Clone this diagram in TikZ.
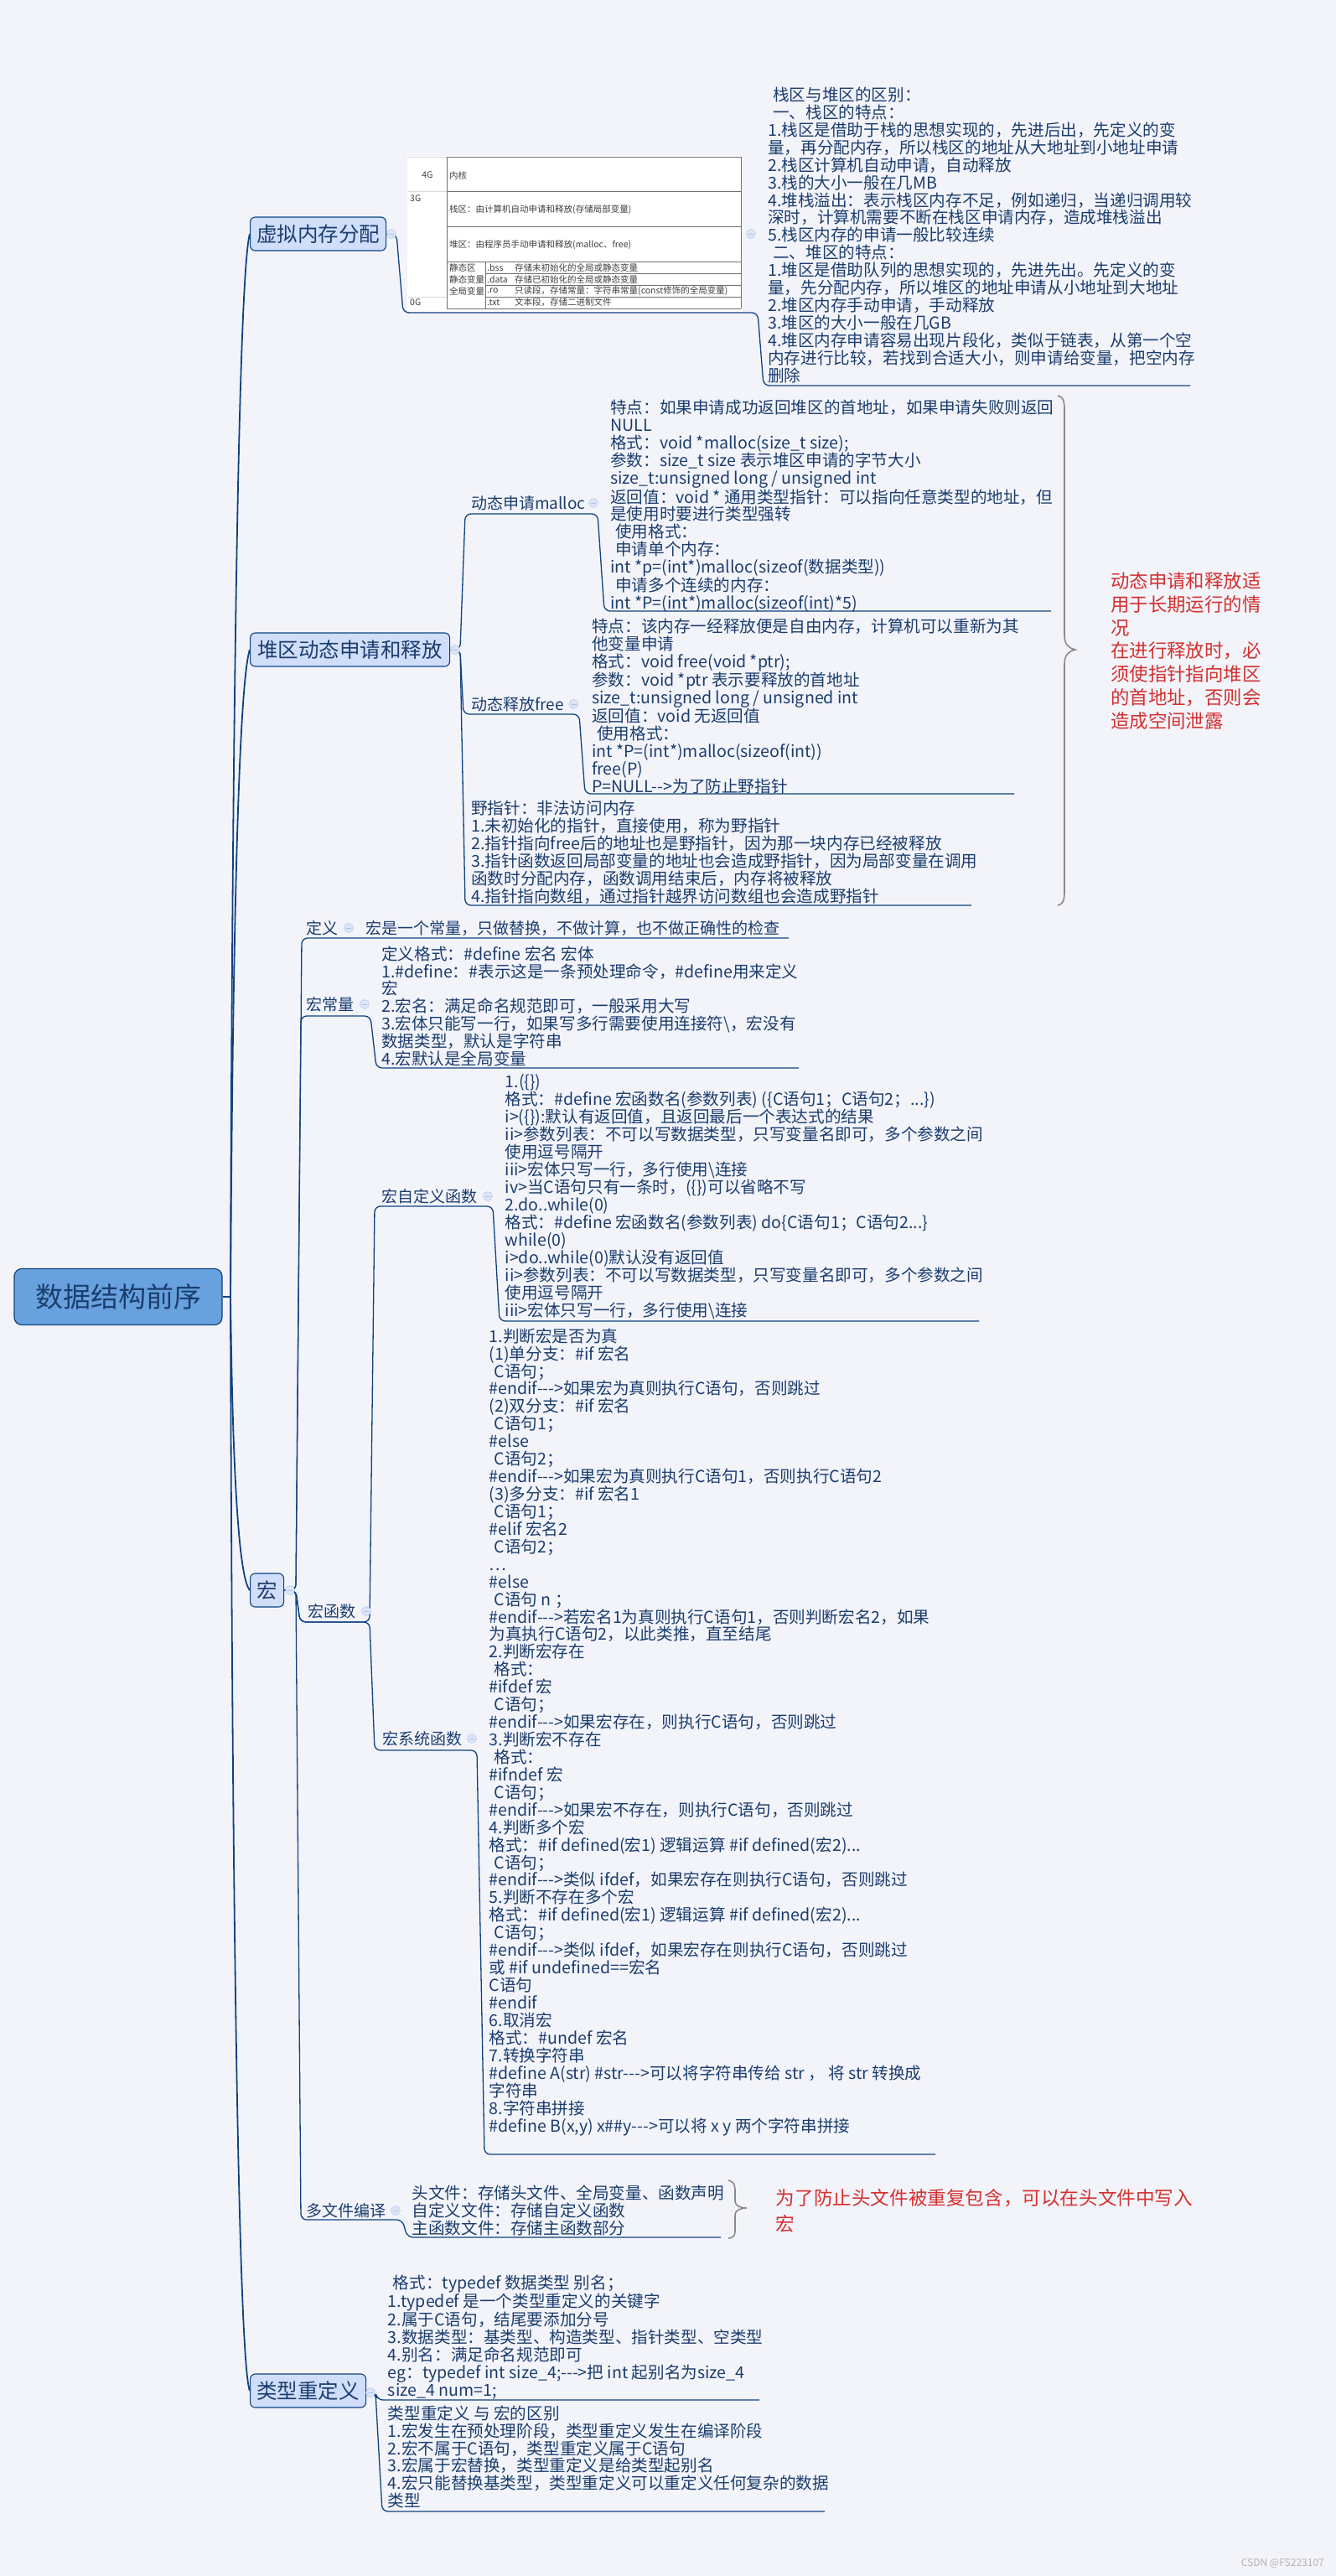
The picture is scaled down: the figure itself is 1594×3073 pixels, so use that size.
\documentclass[tikz,border=0pt]{standalone}
\usepackage{fontspec}
\newfontfamily\cjk{Noto Sans CJK SC}
\usetikzlibrary{positioning}
\definecolor{MapBg}{HTML}{F3F4FA}
\definecolor{MapInk}{HTML}{1B3D6E}
\definecolor{MapLine}{HTML}{0F4280}
\definecolor{TopicFill}{HTML}{D0DEFA}
\definecolor{RootFill}{HTML}{67A1DE}
\definecolor{NoteRed}{HTML}{D3302F}
\definecolor{FoldFill}{HTML}{DCE5F7}
\definecolor{FoldRim}{HTML}{A9BFE6}
\definecolor{BraceGrey}{HTML}{8A8A8A}
\definecolor{TableLine}{HTML}{707070}
\newcommand{\indsp}{\hspace*{6pt}}

\begin{document}
\begin{tikzpicture}[x=1pt, y=-1pt,
        root/.style={draw=MapLine, line width=1.2pt, fill=RootFill, rounded corners=9pt, minimum width=248pt, minimum height=67pt, text=MapInk, font=\cjk\fontsize{33}{36}\selectfont},
        topic/.style={draw=MapLine, line width=1.1pt, fill=TopicFill, rounded corners=6pt, minimum height=40pt, anchor=west, text=MapInk, font=\cjk\fontsize{24.5}{26}\selectfont},
        sublabel/.style={anchor=west, inner sep=0pt, text=MapInk, font=\cjk\fontsize{19}{21}\selectfont},
        notes/.style={anchor=north west, align=left, inner sep=0pt, text=MapInk, font=\cjk\fontsize{19.6}{20.93}\selectfont},
        rednote/.style={anchor=north west, align=left, inner sep=0pt, text=NoteRed, font=\cjk\fontsize{22.4}{27.7}\selectfont},
        cell/.style={anchor=west, inner sep=0pt, text=black!75, font=\cjk\fontsize{10.5}{12}\selectfont},
        fold/.style={circle, draw=FoldRim, fill=FoldFill, minimum size=11pt, inner sep=0pt,
            path picture={\draw[FoldRim, line width=0.8pt] ([xshift=-3pt]path picture bounding box.center) -- ([xshift=3pt]path picture bounding box.center);}},
        trunk/.style={draw=MapLine, line width=1.8pt},
        link/.style={draw=MapLine, line width=1.3pt, rounded corners=7pt},
        curly/.style={draw=BraceGrey, line width=1.6pt},
        tabline/.style={draw=TableLine, line width=1pt},
        tabfaint/.style={draw=black!15, line width=0.8pt}]

    \fill[MapBg] (0,0) rectangle (1594,3073);
    \useasboundingbox (0,0) rectangle (1594,3073);

    % root and main topics
    \node[root] (root) at (141,1547) {数据结构前序};
    \node[topic, minimum width=162pt] (vmem) at (298,279) {虚拟内存分配};
    \node[topic, minimum width=238pt] (heap) at (298,775) {堆区动态申请和释放};
    \node[topic, minimum width=40pt] (macro) at (298,1897) {宏};
    \node[topic, minimum width=138pt] (tdef) at (298,2852) {类型重定义};

    \draw[trunk] (root.east) -- (275,1547) coordinate (hub);
    \draw[trunk] (hub) .. controls (277,900) and (284,330) .. (vmem.west);
    \draw[trunk] (hub) .. controls (277,1200) and (283,820) .. (heap.west);
    \draw[trunk] (hub) .. controls (277,1720) and (283,1880) .. (macro.west);
    \draw[trunk] (hub) .. controls (277,2300) and (285,2820) .. (tdef.west);

    % memory table
    \fill[white] (486,186) rectangle (886,372);
    \draw[tabfaint] (487,187) -- (533,187) (487,228) -- (533,228) (487,354) -- (533,354);
    \draw[tabline] (533,187) -- (884,187) (533,187) -- (533,368) (884,187) -- (884,368);
    \draw[tabline] (533,228) -- (884,228) (533,270) -- (884,270) (533,312) -- (884,312);
    \draw[tabline] (579,326) -- (884,326) (579,340) -- (884,340) (579,354) -- (884,354);
    \draw[tabline] (579,312) -- (579,368) (533,368) -- (884,368);
    \node[cell, anchor=center] (g4) at (510,209) {4G};
    \node[cell] (kern) at (536,209) {内核};
    \node[cell] (g3) at (489,237) {3G};
    \node[cell] (stk) at (536,250) {栈区：由计算机自动申请和释放(存储局部变量)};
    \node[cell] (hp) at (536,292) {堆区：由程序员手动申请和释放(malloc、free)};
    \node[cell] (sa) at (536,319) {静态区};
    \node[cell] (sb) at (536,333) {静态变量};
    \node[cell] (sc) at (536,347) {全局变量};
    \node[cell] (bss) at (581,319) {.bss};
    \node[cell] (dat) at (581,333) {.data};
    \node[cell] (ro) at (581,347) {.ro};
    \node[cell] (txt) at (581,361) {.txt};
    \node[cell] (bssd) at (614,319) {存储未初始化的全局或静态变量};
    \node[cell] (datd) at (614,333) {存储已初始化的全局或静态变量};
    \node[cell] (rod) at (614,347) {只读段，存储常量：字符串常量(const修饰的全局变量)};
    \node[cell] (txtd) at (614,361) {文本段，存储二进制文件};
    \node[cell] (g0) at (489,361) {0G};

    \node[notes] (stackheap) at (916,103.7) {\indsp 栈区与堆区的区别：\\
\indsp 一、栈区的特点：\\
1.栈区是借助于栈的思想实现的，先进后出，先定义的变\\
量，再分配内存，所以栈区的地址从大地址到小地址申请\\
2.栈区计算机自动申请，自动释放\\
3.栈的大小一般在几MB\\
4.堆栈溢出：表示栈区内存不足，例如递归，当递归调用较\\
深时，计算机需要不断在栈区申请内存，造成堆栈溢出\\
5.栈区内存的申请一般比较连续\\
\indsp 二、堆区的特点：\\
1.堆区是借助队列的思想实现的，先进先出。先定义的变\\
量，先分配内存，所以堆区的地址申请从小地址到大地址\\
2.堆区内存手动申请，手动释放\\
3.堆区的大小一般在几GB\\
4.堆区内存申请容易出现片段化，类似于链表，从第一个空\\
内存进行比较，若找到合适大小，则申请给变量，把空内存\\
删除};

    \draw[link] (vmem.east) -- (473,279) -- (481,373) -- (904,373) -- (911,460) -- (1420,460) coordinate (shend);

    % heap branch
    \node[sublabel] (malloc) at (562,600) {动态申请malloc};
    \node[sublabel] (free) at (562,840) {动态释放free};
    \node[notes] (mallocnote) at (728,477) {特点：如果申请成功返回堆区的首地址，如果申请失败则返回\\
NULL\\
格式：void *malloc(size\_t size);\\
参数：size\_t size 表示堆区申请的字节大小\\
size\_t:unsigned long / unsigned int\\
返回值：void * 通用类型指针：可以指向任意类型的地址，但\\
是使用时要进行类型强转\\
\indsp 使用格式：\\
\indsp 申请单个内存：\\
int *p=(int*)malloc(sizeof(数据类型))\\
\indsp 申请多个连续的内存：\\
int *P=(int*)malloc(sizeof(int)*5)};
    \node[notes] (freenote) at (706,737.7) {特点：该内存一经释放便是自由内存，计算机可以重新为其\\
他变量申请\\
格式：void free(void *ptr);\\
参数：void *ptr 表示要释放的首地址\\
size\_t:unsigned long / unsigned int\\
返回值：void 无返回值\\
\indsp 使用格式：\\
int *P=(int*)malloc(sizeof(int))\\
free(P)\\
P=NULL-->为了防止野指针};
    \node[notes] (wild) at (562,955) {野指针：非法访问内存\\
1.未初始化的指针，直接使用，称为野指针\\
2.指针指向free后的地址也是野指针，因为那一块内存已经被释放\\
3.指针函数返回局部变量的地址也会造成野指针，因为局部变量在调用\\
函数时分配内存，函数调用结束后，内存将被释放\\
4.指针指向数组，通过指针越界访问数组也会造成野指针};
    \node[rednote] (heapnote) at (1325,682.7) {动态申请和释放适\\用于长期运行的情\\况\\在进行释放时，必\\须使指针指向堆区\\的首地址，否则会\\造成空间泄露};

    \draw[link] (heap.east) -- (549,775) -- (555,613) -- (713,613) -- (721,729) -- (1254,729) coordinate (mend);
    \draw[link] (heap.east) -- (549,775) -- (553,852) -- (691,852) -- (698,947) -- (1210,947) coordinate (fend);
    \draw[link] (heap.east) -- (549,775) -- (555,1080) -- (1159,1080) coordinate (wend);
    \draw[curly] (1262,472) .. controls (1268,473) and (1270,478) .. (1270,488) -- (1270,758) .. controls (1270,769) and (1276,774) .. (1283,775) .. controls (1276,776) and (1270,781) .. (1270,792) -- (1270,1064) .. controls (1270,1074) and (1268,1079) .. (1262,1080);

    % macro branch
    \node[sublabel] (mdef) at (365.6,1107) {定义};
    \node[sublabel] (mdeftext) at (436,1107) {宏是一个常量，只做替换，不做计算，也不做正确性的检查};
    \node[sublabel] (mconst) at (365.6,1198) {宏常量};
    \node[sublabel] (mfunc) at (367,1922) {宏函数};
    \node[sublabel] (mself) at (455.5,1427) {宏自定义函数};
    \node[sublabel] (msys) at (456,2074) {宏系统函数};
    \node[sublabel] (mfile) at (365,2637) {多文件编译};

    \node[notes] (constnote) at (455,1128.3) {定义格式：\#define 宏名 宏体\\
1.\#define：\#表示这是一条预处理命令，\#define用来定义\\
宏\\
2.宏名：满足命名规范即可，一般采用大写\\
3.宏体只能写一行，如果写多行需要使用连接符\textbackslash，宏没有\\
数据类型，默认是字符串\\
4.宏默认是全局变量};
    \node[notes] (selfnote) at (602.5,1281.7) {1.(\{\})\\
格式：\#define 宏函数名(参数列表) (\{C语句1；C语句2；...\})\\
i>(\{\}):默认有返回值，且返回最后一个表达式的结果\\
ii>参数列表：不可以写数据类型，只写变量名即可，多个参数之间\\
使用逗号隔开\\
iii>宏体只写一行，多行使用\textbackslash{}连接\\
iv>当C语句只有一条时，(\{\})可以省略不写\\
2.do..while(0)\\
格式：\#define 宏函数名(参数列表) do\{C语句1；C语句2...\}\\
while(0)\\
i>do..while(0)默认没有返回值\\
ii>参数列表：不可以写数据类型，只写变量名即可，多个参数之间\\
使用逗号隔开\\
iii>宏体只写一行，多行使用\textbackslash{}连接};
    \node[notes] (sysnote) at (583.5,1584.3) {1.判断宏是否为真\\
(1)单分支：\#if 宏名\\
\indsp C语句；\\
\#endif--->如果宏为真则执行C语句，否则跳过\\
(2)双分支：\#if 宏名\\
\indsp C语句1；\\
\#else\\
\indsp C语句2；\\
\#endif--->如果宏为真则执行C语句1，否则执行C语句2\\
(3)多分支：\#if 宏名1\\
\indsp C语句1；\\
\#elif 宏名2\\
\indsp C语句2；\\
…\\
\#else\\
\indsp C语句 n ；\\
\#endif--->若宏名1为真则执行C语句1，否则判断宏名2，如果\\
为真执行C语句2，以此类推，直至结尾\\
2.判断宏存在\\
\indsp 格式：\\
\#ifdef 宏\\
\indsp C语句；\\
\#endif--->如果宏存在，则执行C语句，否则跳过\\
3.判断宏不存在\\
\indsp 格式：\\
\#ifndef 宏\\
\indsp C语句；\\
\#endif--->如果宏不存在，则执行C语句，否则跳过\\
4.判断多个宏\\
格式：\#if defined(宏1) 逻辑运算 \#if defined(宏2)...\\
\indsp C语句；\\
\#endif--->类似 ifdef，如果宏存在则执行C语句，否则跳过\\
5.判断不存在多个宏\\
格式：\#if defined(宏1) 逻辑运算 \#if defined(宏2)...\\
\indsp C语句；\\
\#endif--->类似 ifdef，如果宏存在则执行C语句，否则跳过\\
或 \#if undefined==宏名\\
C语句\\
\#endif\\
6.取消宏\\
格式：\#undef 宏名\\
7.转换字符串\\
\#define A(str) \#str--->可以将字符串传给 str ， 将 str 转换成\\
字符串\\
8.字符串拼接\\
\#define B(x,y) x\#\#y--->可以将 x y 两个字符串拼接};
    \node[notes] (filenote) at (491.4,2607) {头文件：存储头文件、全局变量、函数声明\\
自定义文件：存储自定义函数\\
主函数文件：存储主函数部分};
    \node[rednote, font=\cjk\fontsize{22.6}{31}\selectfont] (filered) at (925.7,2611.4) {为了防止头文件被重复包含，可以在头文件中写入\\宏};

    \draw[link] (macro.east) -- (353,1897) -- (360,1119) -- (941,1119) coordinate (dend);
    \draw[link] (macro.east) -- (353,1897) -- (359,1212) -- (442,1212) -- (449,1274) -- (953,1274) coordinate (cend);
    \draw[link] (macro.east) -- (353,1897) -- (358,1935) -- (441,1935) -- (447,1439) -- (588,1439) -- (596,1576) -- (1168,1576) coordinate (send);
    \draw[link] (macro.east) -- (353,1897) -- (358,1935) -- (441,1935) -- (447,2088) -- (569,2088) -- (578,2570) -- (1116,2570) coordinate (yend);
    \draw[link] (macro.east) -- (353,1897) -- (359,2648) -- (480,2648) -- (486,2669) -- (860,2669) coordinate (hend);
    \draw[curly] (869,2601) .. controls (874,2602) and (877,2605) .. (877,2612) -- (877,2626) .. controls (877,2631) and (883,2634) .. (891,2634) .. controls (883,2634) and (877,2637) .. (877,2642) -- (877,2662) .. controls (877,2667) and (874,2670) .. (869,2670);

    % typedef branch
    \node[notes] (tdefnote) at (462.7,2713.7) {\indsp 格式：typedef 数据类型 别名；\\
1.typedef 是一个类型重定义的关键字\\
2.属于C语句，结尾要添加分号\\
3.数据类型：基类型、构造类型、指针类型、空类型\\
4.别名：满足命名规范即可\\
eg：typedef int size\_4;--->把 int 起别名为size\_4\\
size\_4 num=1;};
    \node[notes] (diffnote) at (462.7,2869.3) {类型重定义 与 宏的区别\\
1.宏发生在预处理阶段，类型重定义发生在编译阶段\\
2.宏不属于C语句，类型重定义属于C语句\\
3.宏属于宏替换，类型重定义是给类型起别名\\
4.宏只能替换基类型，类型重定义可以重定义任何复杂的数据\\
类型};
    \draw[link] (tdef.east) -- (448,2854) -- (450,2863) -- (906,2863) coordinate (t1end);
    \draw[link] (tdef.east) -- (448,2854) -- (456,2996) -- (984,2996) coordinate (t2end);

    % fold markers
    \node[fold] (fvmem) at (467,279) {};
    \node[fold] (ftable) at (896,279) {};
    \node[fold] (fheap) at (543,775) {};
    \node[fold] (fmalloc) at (708,600) {};
    \node[fold] (ffree) at (684.5,840) {};
    \node[fold] (fmacro) at (346,1897) {};
    \node[fold] (fdef) at (416,1107) {};
    \node[fold] (fconst) at (435,1198) {};
    \node[fold] (ffunc) at (437,1922) {};
    \node[fold] (fself) at (582,1427) {};
    \node[fold] (fsys) at (563,2074) {};
    \node[fold] (ffile) at (472,2637) {};
    \node[fold] (ftdef) at (442,2854) {};

    \node[anchor=east, inner sep=0pt, text=black!30, font=\cjk\fontsize{12}{14}\selectfont] (mark) at (1580,3058) {CSDN @FS223107};
\end{tikzpicture}
\end{document}
